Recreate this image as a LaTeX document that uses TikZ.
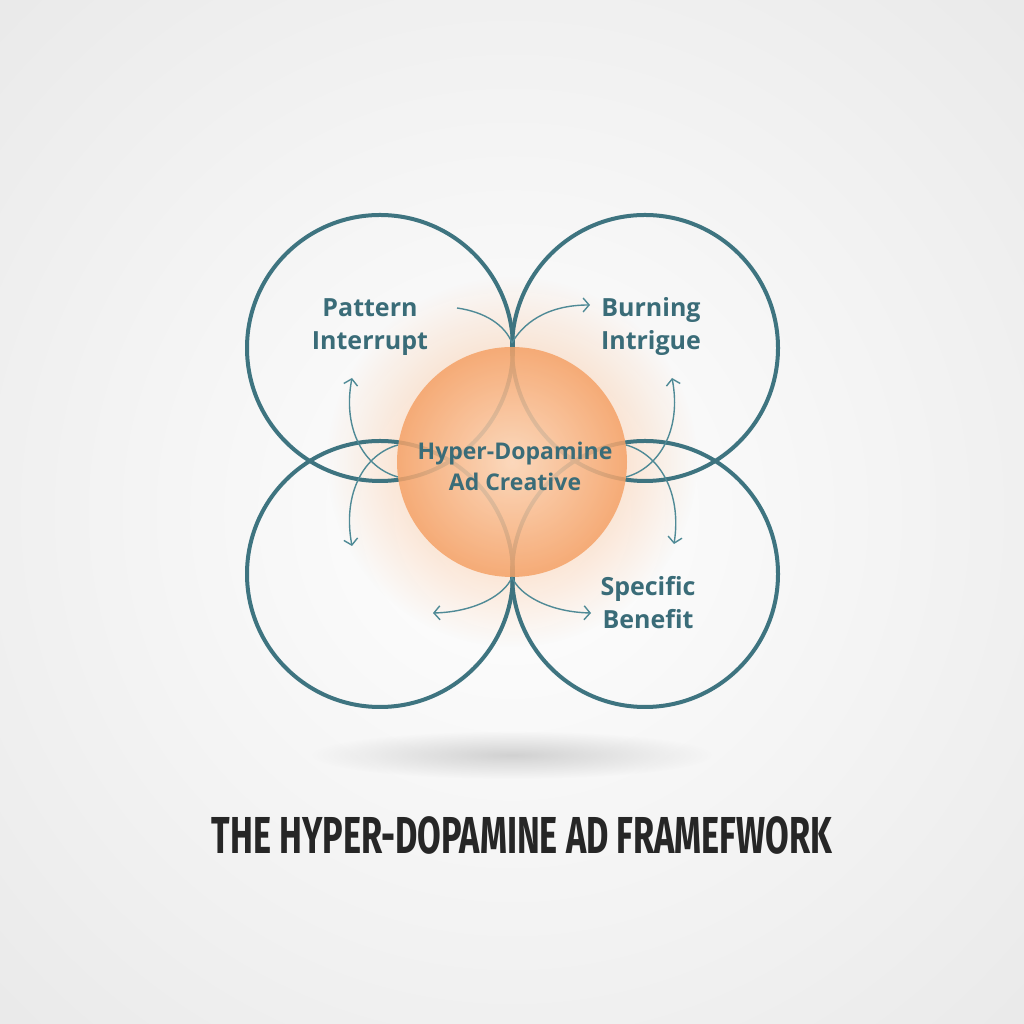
\documentclass[tikz,border=0pt]{standalone}
\usepackage{fontspec}
\setsansfont{Open Sans}
\newfontfamily\titlefont[FakeStretch=0.66]{Fira Sans}
\usetikzlibrary{arrows.meta, fadings}

\definecolor{ringteal}{HTML}{3E7480}
\definecolor{flowteal}{HTML}{4F8A96}
\definecolor{textteal}{HTML}{3A6C78}
\definecolor{coreorange}{HTML}{F5A166}
\definecolor{corelight}{HTML}{FCDCC2}
\definecolor{glow}{HTML}{F9C49C}
\definecolor{titlegrey}{HTML}{262626}
\definecolor{paper}{HTML}{EAEAEA}

\tikzfading[name=softedge, inner color=transparent!0, outer color=transparent!100]

\begin{document}
\begin{tikzpicture}[
        x=1pt, y=1pt,
        ring/.style={circle, draw=ringteal, line width=4pt, minimum size=266pt, inner sep=0pt},
        ringtext/.style={font=\sffamily\bfseries\fontsize{25}{33}\selectfont, text=textteal, align=center},
        coretext/.style={font=\sffamily\bfseries\fontsize{23}{31}\selectfont, text=textteal, align=center},
        flow/.style={draw=flowteal, line width=1.4pt, -{Straight Barb[length=6pt, width=14pt]}},
        flowtail/.style={draw=flowteal, line width=1.4pt}
        ]
        \useasboundingbox (0,0) rectangle (1024,1024);
        \shade[inner color=white, outer color=paper] (-200,-200) rectangle (1224,1224);

        % shadow under the diagram
        \coordinate (shadow) at (512,269);
        \fill[black!18, path fading=softedge] (shadow) ellipse [x radius=200, y radius=24];

        % glow behind the core
        \coordinate (core) at (512,562);
        \fill[glow, path fading=softedge] (core) circle (185);

        % the four rings
        \node[ring] (tl) at (380,676) {};
        \node[ring] (tr) at (645,676) {};
        \node[ring] (bl) at (380,450) {};
        \node[ring] (br) at (645,450) {};

        % core circle
        \shade[inner color=corelight, outer color=coreorange, opacity=0.85] (core) circle (115);
        \node[coretext] (center) at (515,558) {Hyper-Dopamine\\Ad Creative};

        % ring labels
        \node[ringtext] (pattern) at (370,697) {Pattern\\Interrupt};
        \node[ringtext] (burning) at (651,697) {Burning\\Intrigue};
        \node[ringtext] (benefit) at (648,421) {Specific\\Benefit};

        % junctions and arrow ends
        \coordinate (jtop) at (512,681);
        \coordinate (jbot) at (512,447);
        \coordinate (toptail) at (457,716);
        \coordinate (topend) at (590,719);
        \coordinate (botleft) at (433,411);
        \coordinate (botright) at (591,411);
        \coordinate (lstart1) at (398,547);
        \coordinate (lend1) at (352,646);
        \coordinate (lstart2) at (398,579);
        \coordinate (lend2) at (352,478);
        \coordinate (rstart1) at (626,547);
        \coordinate (rend1) at (672,646);
        \coordinate (rstart2) at (626,579);
        \coordinate (rend2) at (674,480);

        \draw[flowtail] (toptail) .. controls (485,712) and (505,699) .. (jtop);
        \draw[flow] (jtop) .. controls (522,699) and (545,719) .. (topend);
        \draw[flow] (jbot) .. controls (505,429) and (475,412) .. (botleft);
        \draw[flow] (jbot) .. controls (519,429) and (549,412) .. (botright);

        \draw[flow] (lstart1) .. controls (365,556) and (342,594) .. (lend1);
        \draw[flow] (lstart2) .. controls (365,570) and (342,532) .. (lend2);
        \draw[flow] (rstart1) .. controls (659,556) and (682,594) .. (rend1);
        \draw[flow] (rstart2) .. controls (659,570) and (682,532) .. (rend2);

        % title
        \node[font=\titlefont\bfseries\fontsize{52}{60}\selectfont, text=titlegrey] (title) at (522,189) {THE HYPER-DOPAMINE AD FRAMEFWORK};
    \end{tikzpicture}
\end{document}
